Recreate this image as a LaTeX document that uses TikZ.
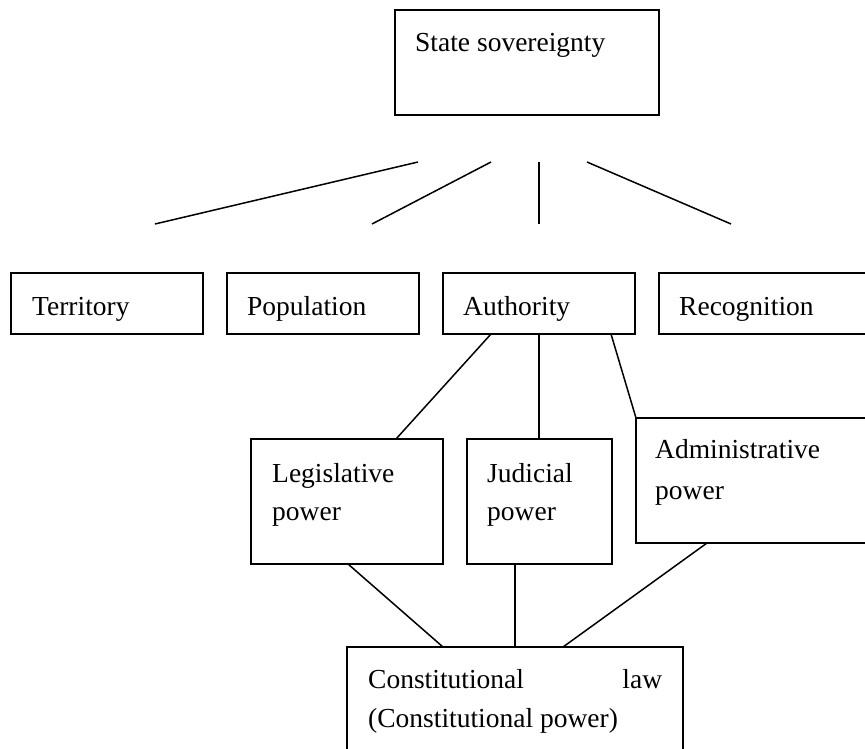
\documentclass[tikz,border=0pt]{standalone}
\usepackage{fontspec}
\setmainfont{Liberation Serif}
\begin{document}
\begin{tikzpicture}[x=1pt,y=-1pt,
  box/.style={draw, line width=1.8pt, inner sep=0pt, outer sep=0pt, anchor=north west},
  lbl/.style={anchor=base west, inner sep=0pt, font=\fontsize{27.5}{40}\selectfont},
  link/.style={line width=1.5pt}]
\useasboundingbox (0,0) rectangle (865,749);
\clip (0,0) rectangle (865,749);

% top box
\node[box, minimum width=264pt, minimum height=105pt] (sov) at (395,10) {};
\node[lbl] (sovT) at (415,52) {State sovereignty};

% free-standing strokes beneath the top box
\coordinate (s1a) at (155,224); \coordinate (s1b) at (418,162);
\coordinate (s2a) at (372,224); \coordinate (s2b) at (491,162);
\coordinate (s3a) at (539,224); \coordinate (s3b) at (539,162);
\coordinate (s4a) at (731,224); \coordinate (s4b) at (587,162);
\draw[link] (s1a) -- (s1b);
\draw[link] (s2a) -- (s2b);
\draw[link] (s3a) -- (s3b);
\draw[link] (s4a) -- (s4b);

% second row
\node[box, minimum width=192pt, minimum height=61pt] (ter) at (11,273) {};
\node[lbl] (terT) at (32,315) {Territory};
\node[box, minimum width=192pt, minimum height=61pt] (pop) at (227,273) {};
\node[lbl] (popT) at (247,315) {Population};
\node[box, minimum width=192pt, minimum height=61pt] (auth) at (443,273) {};
\node[lbl] (authT) at (463,315) {Authority};
\node[box, minimum width=240pt, minimum height=61pt] (rec) at (659,273) {};
\node[lbl] (recT) at (679,315) {Recognition};

% the three powers
\node[box, minimum width=192pt, minimum height=125pt] (leg) at (251,439) {};
\node[lbl] (legT1) at (272,482) {Legislative};
\node[lbl] (legT2) at (272,520) {power};
\node[box, minimum width=145pt, minimum height=125pt] (jud) at (467,439) {};
\node[lbl] (judT1) at (487,482) {Judicial};
\node[lbl] (judT2) at (487,520) {power};
\node[box, minimum width=260pt, minimum height=125pt] (adm) at (636,418) {};
\node[lbl] (admT1) at (655,458) {Administrative};
\node[lbl] (admT2) at (655,499) {power};

% bottom box
\node[box, minimum width=336pt, minimum height=150pt] (con) at (347,647) {};
\node[lbl] (conT1) at (368,688) {\makebox[294pt][s]{Constitutional\hfill law}};
\node[lbl] (conT2) at (368,727) {(Constitutional power)};

% connectors
\draw[link] ([xshift=48pt]auth.south west) -- ([xshift=145pt]leg.north west);
\draw[link] ([xshift=96pt]auth.south west) -- ([xshift=72pt]jud.north west);
\draw[link] ([xshift=168pt]auth.south west) -- (adm.north west);
\draw[link] ([xshift=97pt]leg.south west) -- ([xshift=96pt]con.north west);
\draw[link] ([xshift=48pt]jud.south west) -- ([xshift=168pt]con.north west);
\draw[link] ([xshift=71pt]adm.south west) -- ([xshift=216pt]con.north west);
\end{tikzpicture}
\end{document}
